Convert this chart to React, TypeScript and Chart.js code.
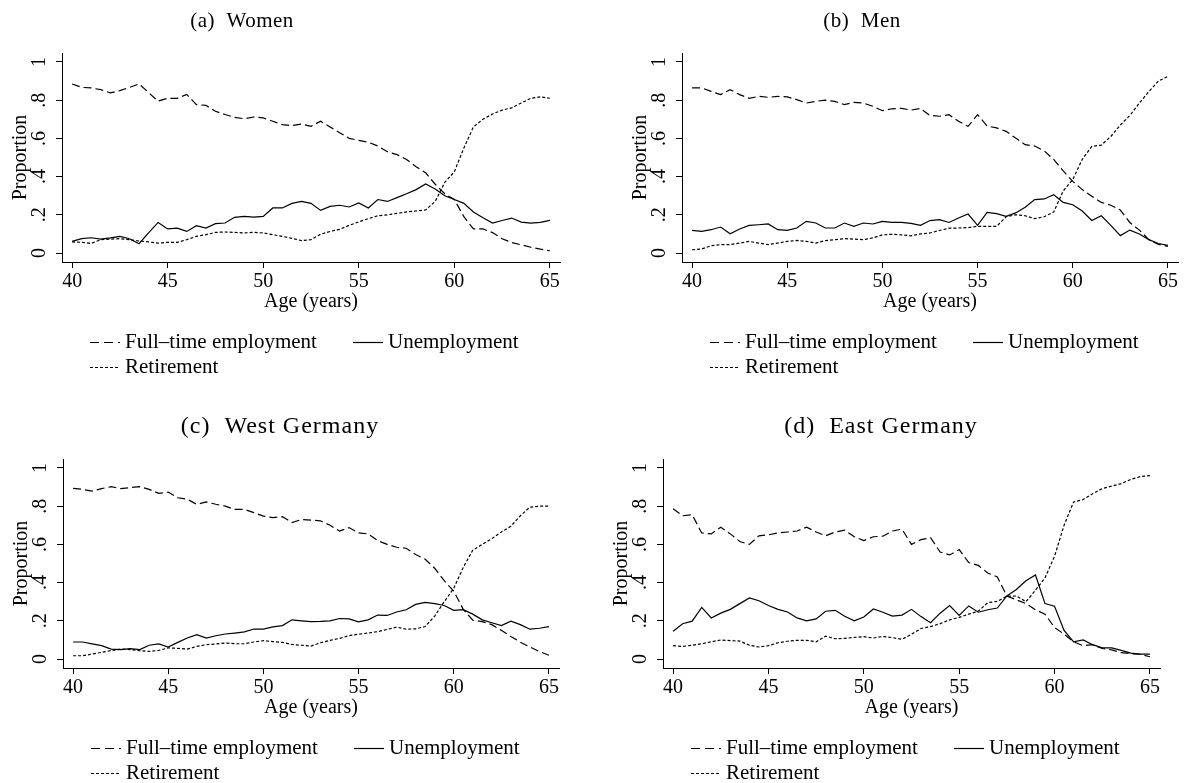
import React, { useEffect, useRef } from "react";
import { Chart, registerables } from "chart.js";

Chart.register(...registerables);

// ---------------- data ----------------
const AGES = [40, 40.5, 41, 41.5, 42, 42.5, 43, 43.5, 44, 44.5, 45, 45.5, 46, 46.5, 47, 47.5, 48, 48.5, 49, 49.5, 50, 50.5, 51, 51.5, 52, 52.5, 53, 53.5, 54, 54.5, 55, 55.5, 56, 56.5, 57, 57.5, 58, 58.5, 59, 59.5, 60, 60.5, 61, 61.5, 62, 62.5, 63, 63.5, 64, 64.5, 65];

const X_TICKS = [40, 45, 50, 55, 60, 65];
const Y_TICKS = [0, 0.2, 0.4, 0.6, 0.8, 1];
const Y_TICK_LABELS = ["0", ".2", ".4", ".6", ".8", "1"];
const LEGEND_LABELS = ["Full\u2013time employment", "Unemployment", "Retirement"];
const TITLES = ["(a)  Women", "(b)  Men", "(c)  West Germany", "(d)  East Germany"];

const WOMEN_FT = [0.885, 0.867, 0.864, 0.855, 0.838, 0.85, 0.867, 0.885, 0.84, 0.795, 0.81, 0.81, 0.83, 0.777, 0.773, 0.742, 0.725, 0.71, 0.703, 0.712, 0.707, 0.69, 0.672, 0.667, 0.675, 0.663, 0.69, 0.66, 0.63, 0.6, 0.59, 0.58, 0.56, 0.53, 0.515, 0.49, 0.452, 0.42, 0.36, 0.31, 0.28, 0.19, 0.126, 0.126, 0.107, 0.075, 0.055, 0.043, 0.03, 0.02, 0.012];
const WOMEN_UN = [0.061, 0.075, 0.08, 0.073, 0.079, 0.087, 0.075, 0.049, 0.105, 0.16, 0.126, 0.13, 0.113, 0.143, 0.131, 0.154, 0.157, 0.187, 0.192, 0.188, 0.192, 0.236, 0.236, 0.26, 0.27, 0.26, 0.223, 0.244, 0.25, 0.241, 0.262, 0.236, 0.28, 0.27, 0.29, 0.31, 0.332, 0.362, 0.335, 0.3, 0.28, 0.26, 0.215, 0.185, 0.157, 0.17, 0.183, 0.162, 0.157, 0.16, 0.171];
const WOMEN_RE = [0.058, 0.056, 0.05, 0.07, 0.073, 0.075, 0.07, 0.063, 0.058, 0.052, 0.056, 0.056, 0.07, 0.087, 0.096, 0.108, 0.11, 0.108, 0.105, 0.108, 0.105, 0.096, 0.087, 0.077, 0.065, 0.07, 0.098, 0.113, 0.124, 0.145, 0.163, 0.18, 0.195, 0.2, 0.208, 0.215, 0.22, 0.226, 0.27, 0.37, 0.425, 0.55, 0.66, 0.7, 0.728, 0.748, 0.76, 0.785, 0.81, 0.817, 0.81];

const MEN_FT = [0.864, 0.864, 0.846, 0.829, 0.855, 0.829, 0.81, 0.82, 0.815, 0.82, 0.817, 0.803, 0.785, 0.794, 0.8, 0.794, 0.777, 0.789, 0.785, 0.768, 0.745, 0.755, 0.757, 0.748, 0.757, 0.72, 0.716, 0.724, 0.69, 0.663, 0.724, 0.665, 0.655, 0.637, 0.602, 0.567, 0.56, 0.535, 0.49, 0.43, 0.375, 0.332, 0.297, 0.265, 0.25, 0.225, 0.16, 0.12, 0.07, 0.045, 0.035];
const MEN_UN = [0.119, 0.113, 0.122, 0.136, 0.101, 0.126, 0.145, 0.148, 0.152, 0.122, 0.119, 0.131, 0.166, 0.157, 0.131, 0.131, 0.157, 0.14, 0.157, 0.152, 0.166, 0.16, 0.16, 0.155, 0.145, 0.17, 0.175, 0.16, 0.183, 0.204, 0.145, 0.213, 0.206, 0.192, 0.21, 0.24, 0.28, 0.283, 0.305, 0.265, 0.253, 0.22, 0.17, 0.195, 0.145, 0.091, 0.12, 0.1, 0.07, 0.05, 0.04];
const MEN_RE = [0.017, 0.021, 0.038, 0.044, 0.044, 0.052, 0.061, 0.052, 0.044, 0.052, 0.061, 0.066, 0.061, 0.052, 0.065, 0.07, 0.075, 0.073, 0.07, 0.079, 0.095, 0.098, 0.095, 0.09, 0.1, 0.105, 0.118, 0.13, 0.131, 0.133, 0.14, 0.14, 0.14, 0.19, 0.2, 0.195, 0.18, 0.19, 0.215, 0.325, 0.385, 0.49, 0.558, 0.565, 0.61, 0.67, 0.72, 0.785, 0.845, 0.9, 0.925];

const WEST_FT = [0.893, 0.888, 0.879, 0.892, 0.902, 0.892, 0.897, 0.902, 0.888, 0.867, 0.874, 0.844, 0.836, 0.81, 0.822, 0.81, 0.8, 0.783, 0.783, 0.766, 0.748, 0.74, 0.745, 0.714, 0.73, 0.727, 0.723, 0.7, 0.67, 0.688, 0.66, 0.655, 0.62, 0.6, 0.585, 0.58, 0.547, 0.522, 0.475, 0.41, 0.355, 0.26, 0.203, 0.196, 0.18, 0.15, 0.118, 0.088, 0.063, 0.039, 0.02];
const WEST_UN = [0.089, 0.089, 0.079, 0.07, 0.052, 0.049, 0.054, 0.049, 0.072, 0.079, 0.063, 0.087, 0.11, 0.128, 0.11, 0.122, 0.131, 0.136, 0.142, 0.157, 0.157, 0.168, 0.175, 0.205, 0.2, 0.196, 0.197, 0.2, 0.212, 0.21, 0.195, 0.205, 0.23, 0.228, 0.246, 0.258, 0.286, 0.296, 0.29, 0.28, 0.255, 0.258, 0.235, 0.205, 0.19, 0.175, 0.198, 0.18, 0.156, 0.161, 0.17];
const WEST_RE = [0.017, 0.017, 0.026, 0.035, 0.044, 0.052, 0.049, 0.044, 0.04, 0.045, 0.058, 0.056, 0.052, 0.066, 0.075, 0.079, 0.084, 0.08, 0.08, 0.089, 0.096, 0.091, 0.087, 0.076, 0.072, 0.068, 0.085, 0.098, 0.108, 0.122, 0.13, 0.136, 0.143, 0.155, 0.167, 0.156, 0.158, 0.17, 0.225, 0.3, 0.37, 0.48, 0.57, 0.6, 0.63, 0.665, 0.695, 0.75, 0.795, 0.8, 0.8];

const EAST_FT = [0.787, 0.75, 0.755, 0.66, 0.655, 0.69, 0.655, 0.615, 0.6, 0.645, 0.65, 0.66, 0.665, 0.67, 0.69, 0.665, 0.645, 0.665, 0.675, 0.64, 0.62, 0.64, 0.643, 0.67, 0.68, 0.6, 0.625, 0.635, 0.56, 0.545, 0.573, 0.505, 0.49, 0.45, 0.43, 0.33, 0.31, 0.29, 0.258, 0.235, 0.165, 0.13, 0.09, 0.07, 0.075, 0.055, 0.048, 0.033, 0.028, 0.025, 0.012];
const EAST_UN = [0.145, 0.185, 0.198, 0.27, 0.215, 0.24, 0.26, 0.29, 0.32, 0.305, 0.28, 0.26, 0.246, 0.215, 0.2, 0.21, 0.25, 0.255, 0.224, 0.2, 0.22, 0.262, 0.245, 0.225, 0.23, 0.26, 0.222, 0.19, 0.24, 0.28, 0.228, 0.278, 0.245, 0.258, 0.267, 0.33, 0.364, 0.41, 0.44, 0.29, 0.276, 0.15, 0.09, 0.1, 0.075, 0.058, 0.058, 0.045, 0.031, 0.026, 0.026];
const EAST_RE = [0.07, 0.066, 0.072, 0.08, 0.09, 0.1, 0.096, 0.094, 0.072, 0.063, 0.07, 0.085, 0.093, 0.098, 0.098, 0.09, 0.12, 0.106, 0.108, 0.113, 0.117, 0.11, 0.118, 0.112, 0.103, 0.13, 0.16, 0.17, 0.185, 0.205, 0.218, 0.235, 0.25, 0.295, 0.302, 0.329, 0.33, 0.3, 0.36, 0.425, 0.538, 0.7, 0.822, 0.835, 0.865, 0.892, 0.905, 0.918, 0.94, 0.955, 0.96];

// ---------------- layout ----------------
const SERIF = '"Liberation Serif", "Times New Roman", serif';
const DASH_FT = [8, 4];
const DASH_RE = [3, 2];

type PanelCfg = {
  title: string;
  ft: number[];
  un: number[];
  re: number[];
  x: number;
  y: number;
  w: number;
  h: number;
  areaLeft: number;
  areaRight: number;
  titleX: number;
  titleSize: number;
  titleSpacing: number;
};

const PANELS: PanelCfg[] = [
  { title: TITLES[0], ft: WOMEN_FT, un: WOMEN_UN, re: WOMEN_RE, x: 0, y: 0, w: 593, h: 406, areaLeft: 62, areaRight: 560, titleX: 242, titleSize: 21, titleSpacing: 0.5 },
  { title: TITLES[1], ft: MEN_FT, un: MEN_UN, re: MEN_RE, x: 593, y: 0, w: 593, h: 406, areaLeft: 89, areaRight: 585, titleX: 269, titleSize: 21, titleSpacing: 0.5 },
  { title: TITLES[2], ft: WEST_FT, un: WEST_UN, re: WEST_RE, x: 0, y: 406, w: 593, h: 377, areaLeft: 63, areaRight: 559, titleX: 280, titleSize: 24, titleSpacing: 1 },
  { title: TITLES[3], ft: EAST_FT, un: EAST_UN, re: EAST_RE, x: 593, y: 406, w: 593, h: 377, areaLeft: 70, areaRight: 567, titleX: 288, titleSize: 24, titleSpacing: 1 },
];

const AREA_TOP = 53;
const AREA_BOTTOM = 262;

function makeDecor(cfg: PanelCfg) {
  return {
    id: "stataDecor",
    afterDraw(chart: any) {
      const ctx: CanvasRenderingContext2D = chart.ctx;
      const area = chart.chartArea;
      const xs = chart.scales.x;
      const ys = chart.scales.y;
      ctx.save();
      ctx.fillStyle = "#000";
      ctx.strokeStyle = "#000";

      // panel title
      ctx.font = `${cfg.titleSize}px ${SERIF}`;
      (ctx as any).letterSpacing = `${cfg.titleSpacing}px`;
      ctx.textAlign = "center";
      ctx.textBaseline = "middle";
      ctx.fillText(cfg.title, cfg.titleX, 21);
      (ctx as any).letterSpacing = "0px";

      // y tick labels (rotated)
      ctx.font = `20px ${SERIF}`;
      ctx.textAlign = "center";
      ctx.textBaseline = "alphabetic";
      Y_TICKS.forEach((v, i) => {
        const py = ys.getPixelForValue(v);
        ctx.save();
        ctx.translate(area.left - 17, py);
        ctx.rotate(-Math.PI / 2);
        ctx.fillText(Y_TICK_LABELS[i], 0, 0);
        ctx.restore();
      });

      // y title
      ctx.save();
      ctx.translate(area.left - 36, (area.top + area.bottom) / 2);
      ctx.rotate(-Math.PI / 2);
      ctx.fillText("Proportion", 0, 0);
      ctx.restore();

      // x tick labels
      X_TICKS.forEach((v) => {
        const px = xs.getPixelForValue(v);
        ctx.fillText(String(v), px, area.bottom + 25);
      });

      // x title
      ctx.fillText("Age (years)", (area.left + area.right) / 2, area.bottom + 45);

      // legend
      ctx.font = `21px ${SERIF}`;
      ctx.textAlign = "left";
      ctx.lineWidth = 1.2;
      const row1 = area.bottom + 80;
      const row2 = area.bottom + 105;
      const drawSym = (x0: number, x1: number, y: number, dash: number[]) => {
        ctx.beginPath();
        ctx.setLineDash(dash);
        ctx.moveTo(x0, y + 0.5);
        ctx.lineTo(x1, y + 0.5);
        ctx.stroke();
        ctx.setLineDash([]);
      };
      drawSym(area.left + 28, area.left + 58, row1, [9, 5]);
      ctx.fillText(LEGEND_LABELS[0], area.left + 63, row1 + 6);
      drawSym(area.left + 291, area.left + 321, row1, []);
      ctx.fillText(LEGEND_LABELS[1], area.left + 326, row1 + 6);
      drawSym(area.left + 28, area.left + 57, row2, [3, 2]);
      ctx.fillText(LEGEND_LABELS[2], area.left + 63, row2 + 6);

      ctx.restore();
    },
  };
}

function Panel({ cfg }: { cfg: PanelCfg }) {
  const ref = useRef<HTMLCanvasElement | null>(null);
  useEffect(() => {
    if (!ref.current) return;
    const mk = (vals: number[]) => AGES.map((a, i) => ({ x: a, y: vals[i] }));
    const common = {
      borderColor: "#000",
      borderWidth: 1.2,
      pointRadius: 0,
      pointHoverRadius: 0,
      fill: false,
      tension: 0,
    };
    const axisGrid = {
      display: true,
      drawOnChartArea: false,
      drawTicks: true,
      tickLength: 6,
      color: "#000",
      lineWidth: 1,
    };
    const chart = new Chart(ref.current, {
      type: "line",
      data: {
        datasets: [
          { ...common, label: LEGEND_LABELS[0], data: mk(cfg.ft), borderDash: DASH_FT },
          { ...common, label: LEGEND_LABELS[1], data: mk(cfg.un) },
          { ...common, label: LEGEND_LABELS[2], data: mk(cfg.re), borderDash: DASH_RE },
        ],
      },
      options: {
        animation: false,
        responsive: false,
        devicePixelRatio: 1,
        events: [],
        layout: { padding: { left: 0, right: cfg.w - cfg.areaRight, top: AREA_TOP, bottom: 0 } },
        plugins: { legend: { display: false }, tooltip: { enabled: false }, title: { display: false } },
        scales: {
          x: {
            type: "linear",
            min: 39.47,
            max: 65.53,
            afterBuildTicks: (s: any) => {
              s.ticks = X_TICKS.map((v) => ({ value: v }));
            },
            afterFit: (s: any) => {
              s.height = cfg.h - AREA_BOTTOM;
            },
            ticks: { display: false },
            grid: axisGrid,
            border: { display: true, color: "#000", width: 1 },
          },
          y: {
            type: "linear",
            min: -0.047,
            max: 1.047,
            afterBuildTicks: (s: any) => {
              s.ticks = Y_TICKS.map((v) => ({ value: v }));
            },
            afterFit: (s: any) => {
              s.width = cfg.areaLeft;
            },
            ticks: { display: false },
            grid: axisGrid,
            border: { display: true, color: "#000", width: 1 },
          },
        },
      } as any,
      plugins: [makeDecor(cfg)],
    });
    return () => chart.destroy();
  }, [cfg]);
  return (
    <canvas
      ref={ref}
      width={cfg.w}
      height={cfg.h}
      style={{ position: "absolute", left: cfg.x, top: cfg.y, width: cfg.w, height: cfg.h }}
    />
  );
}

export default function App() {
  return (
    <div style={{ position: "absolute", left: 0, top: 0, width: 1186, height: 783, background: "#fff", overflow: "hidden" }}>
      {PANELS.map((p, i) => (
        <Panel key={i} cfg={p} />
      ))}
    </div>
  );
}
